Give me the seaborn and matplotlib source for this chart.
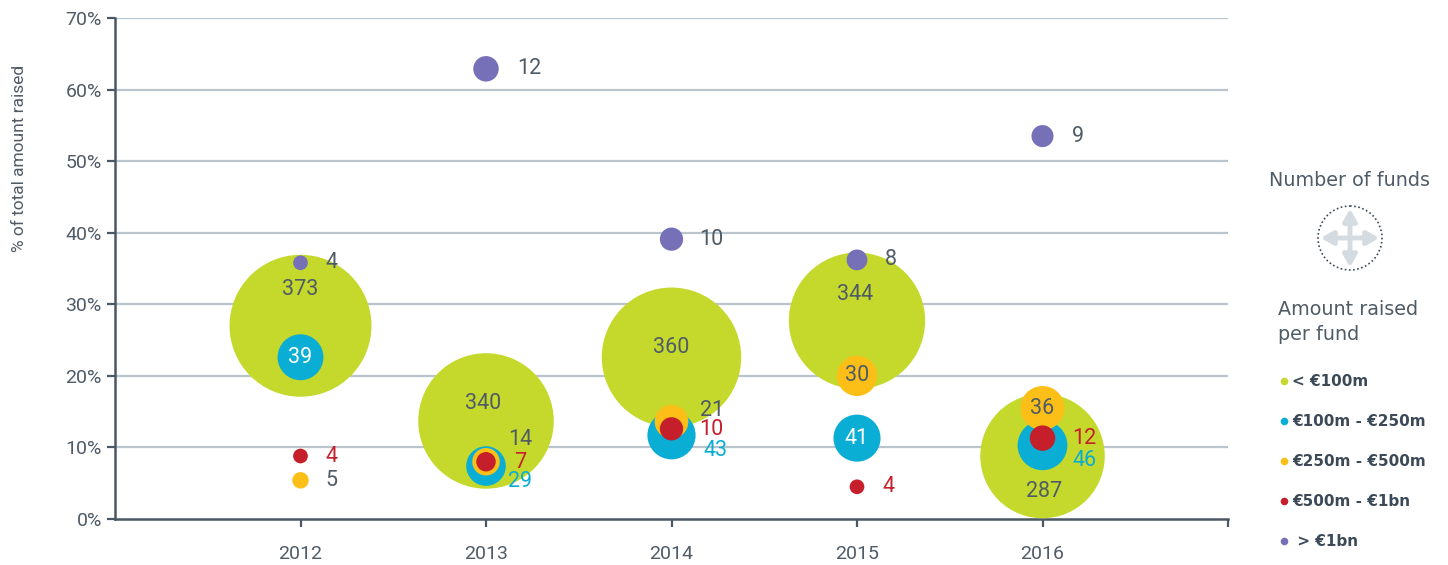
import numpy as np
import pandas as pd
import seaborn as sns
import matplotlib.pyplot as plt
from matplotlib.patches import Circle

# data
years = [2012, 2013, 2014, 2015, 2016]
categories = ["< €100m", "€100m - €250m", "€250m - €500m", "€500m - €1bn", "> €1bn"]

# % of total amount raised, per category
pct_lt100 = [27.0, 13.7, 22.6, 27.7, 8.8]
pct_100_250 = [22.6, 7.4, 11.7, 11.3, 10.3]
pct_250_500 = [5.4, 8.0, 13.6, 20.0, 15.5]
pct_500_1bn = [8.8, 8.0, 12.6, 4.5, 11.3]
pct_gt1bn = [35.8, 62.9, 39.1, 36.2, 53.5]

# number of funds, per category
n_lt100 = [373, 340, 360, 344, 287]
n_100_250 = [39, 29, 43, 41, 46]
n_250_500 = [5, 14, 21, 30, 36]
n_500_1bn = [4, 7, 10, 4, 12]
n_gt1bn = [4, 12, 10, 8, 9]

pcts = [pct_lt100, pct_100_250, pct_250_500, pct_500_1bn, pct_gt1bn]
counts = [n_lt100, n_100_250, n_250_500, n_500_1bn, n_gt1bn]

colors = ["#c5d92d", "#0aadd3", "#fcbf17", "#c41f2a", "#7570b8"]
palette = dict(zip(categories, colors))
TXT = "#4f5b66"

rows = []
for cat, p, n in zip(categories, pcts, counts):
    for y, v, c in zip(years, p, n):
        rows.append({"year": y, "cat": cat, "pct": v, "n": c})
df = pd.DataFrame(rows)
df = df.sort_values("n", ascending=False, kind="stable")

plt.rcParams['font.family'] = ['Roboto', 'DejaVu Sans']
fig = plt.figure(figsize=(14.48, 5.65), dpi=100)
ax = fig.add_axes([115 / 1448, 46 / 565, 1113 / 1448, 501 / 565])

for v in range(10, 80, 10):
    ax.axhline(v, color="#b9c4cd", lw=1.6, zorder=0)

sns.scatterplot(data=df, x="year", y="pct", hue="cat", size="n", palette=palette,
                sizes=(0, 28 * 400), size_norm=(0, 400), linewidth=0,
                alpha=1, legend=False, ax=ax, zorder=3)

# label placement: (dx px, dy px, ha, color)
G, W, B, R = TXT, "white", "#0aadd3", "#c41f2a"
label_pos = {
    (2012, 0): (0, -36, "center", G), (2012, 1): (0, 0, "center", W),
    (2012, 2): (25, 0, "left", G), (2012, 3): (25, 0, "left", R), (2012, 4): (25, 0, "left", G),
    (2013, 0): (-3, -17, "center", G), (2013, 1): (22, 15, "left", B),
    (2013, 2): (22, -22, "left", G), (2013, 3): (28, 1, "left", R), (2013, 4): (31, 0, "left", G),
    (2014, 0): (0, -10, "center", G), (2014, 1): (32, 15, "left", B),
    (2014, 2): (28, -11, "left", G), (2014, 3): (28, 1, "left", R), (2014, 4): (28, 0, "left", G),
    (2015, 0): (-2, -26, "center", G), (2015, 1): (0, 0, "center", W),
    (2015, 2): (0, 0, "center", G), (2015, 3): (25, 0, "left", R), (2015, 4): (28, 0, "left", G),
    (2016, 0): (2, 35, "center", G), (2016, 1): (30, 15, "left", B),
    (2016, 2): (0, 0, "center", G), (2016, 3): (30, 0, "left", R), (2016, 4): (29, 0, "left", G),
}
for ci, (p, n) in enumerate(zip(pcts, counts)):
    for y, v, c in zip(years, p, n):
        dx, dy, ha, col = label_pos[(y, ci)]
        ax.annotate(str(c), (y, v), xytext=(dx * 0.72, -dy * 0.72), textcoords="offset points",
                    ha=ha, va="center", fontsize=15.5, color=col, zorder=5)

ax.set_xlim(2011, 2017)
ax.set_ylim(0, 70)
ax.set_xticks(years)
ax.set_xticks([2017], minor=True)
ax.set_yticks(range(0, 80, 10))
ax.set_yticklabels([f"{v}%" for v in range(0, 80, 10)])
ax.tick_params(axis="both", colors="#4a5866", labelcolor=TXT, labelsize=14, width=1.6, length=6)
ax.tick_params(axis="x", which="minor", colors="#4a5866", width=1.6, length=6)
ax.tick_params(axis="x", pad=13)
for s in ["top", "right"]:
    ax.spines[s].set_visible(False)
for s in ["left", "bottom"]:
    ax.spines[s].set_color("#4a5866")
    ax.spines[s].set_linewidth(1.8)
ax.set_xlabel("")
ax.set_ylabel("% of total amount raised", fontsize=12.5, color=TXT)
ax.yaxis.set_label_coords(-0.079, 0.72)

# custom legend panel in pixel coordinates
lg = fig.add_axes([1250 / 1448, 0, 198 / 1448, 1])
lg.set_xlim(1250, 1448)
lg.set_ylim(565, 0)
lg.axis("off")
lg.text(1350, 180, "Number of funds", ha="center", va="center", fontsize=13.8,
        color=TXT, family="DejaVu Sans")
lg.add_patch(Circle((1350, 238), 32, fill=False, ls=(0, (1, 1.5)), lw=1.2, ec="#3c4a58"))
lg.annotate("", xy=(1350, 206), xytext=(1350, 270),
            arrowprops=dict(arrowstyle="<|-|>,head_length=0.7,head_width=0.4", color="#d4dbe1", lw=3.5))
lg.annotate("", xy=(1318, 238), xytext=(1382, 238),
            arrowprops=dict(arrowstyle="<|-|>,head_length=0.7,head_width=0.4", color="#d4dbe1", lw=3.5))
lg.text(1278, 322, "Amount raised\nper fund", ha="left", va="center", fontsize=13.8,
        color=TXT, family="DejaVu Sans", linespacing=1.35)
for i, (cat, col) in enumerate(zip(categories, colors)):
    yy = 381 + 40 * i
    lg.scatter([1284], [yy], s=30, color=col, linewidth=0)
    label = " " + cat if cat.startswith(">") else cat
    lg.text(1292, yy, label, ha="left", va="center", fontsize=11, fontweight="bold",
            color="#3c4a58", family="DejaVu Sans")

fig.savefig("out.png", dpi=100)
